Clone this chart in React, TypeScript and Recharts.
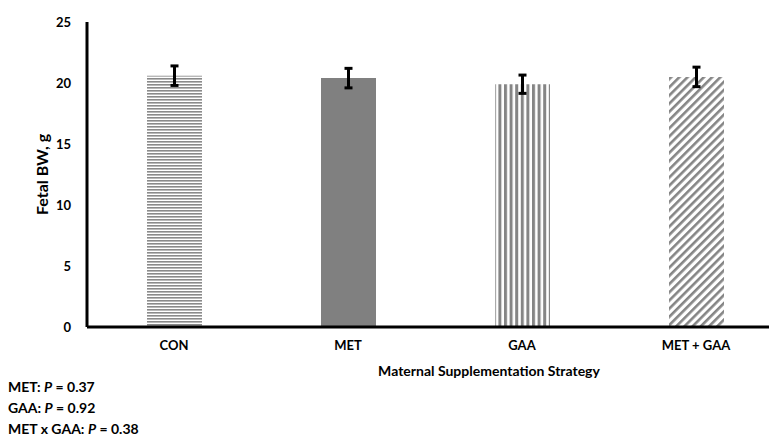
import React from "react";
import { BarChart, Bar, XAxis, YAxis, ErrorBar, Cell } from "recharts";

const categories = ["CON", "MET", "GAA", "MET + GAA"];
const bodyWeight = [20.6, 20.4, 19.9, 20.5];
const bodyWeightErr = [0.8, 0.8, 0.75, 0.8];
const yTicks = [0, 5, 10, 15, 20, 25];
const fills = ["url(#hlines)", "#808080", "url(#vlines)", "url(#diag)"];
const stats = [
  { label: "MET: ", p: "0.37" },
  { label: "GAA: ", p: "0.92" },
  { label: "MET x GAA: ", p: "0.38" },
];

const data = categories.map((c, i) => ({ name: c, bw: bodyWeight[i], err: bodyWeightErr[i] }));

const FONT = "Lato, 'Open Sans', sans-serif";

export default function App() {
  return (
    <div style={{ position: "absolute", left: 0, top: 0, width: 769, height: 436, overflow: "hidden", background: "#fff", fontFamily: FONT }}>
      <BarChart width={790} height={436} data={data} margin={{ top: 22, right: 7, bottom: 79, left: 0 }}>
        <defs>
          <pattern id="hlines" patternUnits="userSpaceOnUse" width={6} height={3}>
            <rect x={0} y={0} width={6} height={3} fill="#fff" />
            <rect x={0} y={0} width={6} height={1.6} fill="#8a8a8a" />
          </pattern>
          <pattern id="vlines" patternUnits="userSpaceOnUse" width={5.6} height={6}>
            <rect x={0} y={0} width={5.6} height={6} fill="#fff" />
            <rect x={0} y={0} width={3} height={6} fill="#858585" />
          </pattern>
          <pattern id="diag" patternUnits="userSpaceOnUse" width={5.8} height={6} patternTransform="rotate(45)">
            <rect x={0} y={0} width={5.8} height={6} fill="#fff" />
            <rect x={0} y={0} width={2.6} height={6} fill="#858585" />
          </pattern>
        </defs>
        <XAxis
          dataKey="name"
          height={30}
          axisLine={{ stroke: "#000", strokeWidth: 3 }}
          tickLine={false}
          tick={{ fill: "#000", fontSize: 13, fontWeight: 700, fontFamily: FONT }}
          tickMargin={8}
          label={{ value: "Maternal Supplementation Strategy", position: "insideBottom", offset: -19, fill: "#000", fontSize: 14, fontWeight: 700, fontFamily: FONT, dx: 54 }}
        />
        <YAxis
          domain={[0, 25]}
          ticks={yTicks}
          width={87}
          axisLine={{ stroke: "#000", strokeWidth: 3 }}
          tickLine={false}
          tickSize={0}
          tickMargin={16}
          tick={{ fill: "#000", fontSize: 13, fontWeight: 700, fontFamily: FONT }}
          label={{ value: "Fetal BW, g", angle: -90, position: "insideLeft", offset: 0, dx: 42, dy: 0, fill: "#000", fontSize: 16, fontWeight: 700, fontFamily: FONT, style: { textAnchor: "middle" } }}
        />
        <Bar dataKey="bw" barSize={55} isAnimationActive={false}>
          {data.map((d, i) => (
            <Cell key={d.name} fill={fills[i]} />
          ))}
          <ErrorBar dataKey="err" width={4} stroke="#000" strokeWidth={3} isAnimationActive={false} />
        </Bar>
      </BarChart>
      <div style={{ position: "absolute", left: 8, top: 376, fontSize: 14, fontWeight: 700, lineHeight: "21px", color: "#000" }}>
        {stats.map((s) => (
          <div key={s.label}>
            {s.label}
            <i>P</i> = {s.p}
          </div>
        ))}
      </div>
    </div>
  );
}
